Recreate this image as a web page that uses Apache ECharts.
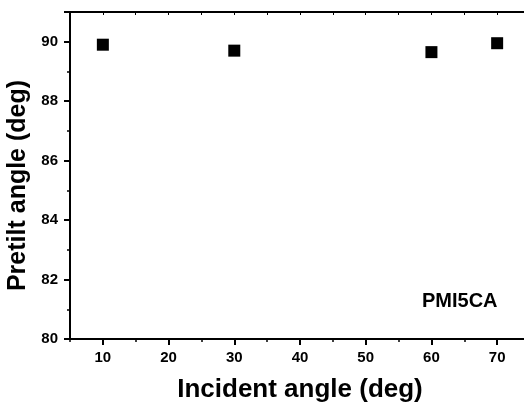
<!DOCTYPE html>
<html>
<head>
<meta charset="utf-8">
<script src="https://cdn.jsdelivr.net/npm/echarts@6/dist/echarts.min.js"></script>
<style>html,body{margin:0;padding:0;background:#fff;}#c{width:524px;height:402px;}</style>
</head>
<body>
<div id="c"></div>
<script>
var incidentAngles = [10, 30, 60, 70];
var pretiltAngles = [89.9, 89.7, 89.65, 89.95];
var xMajorTicks = [10, 20, 30, 40, 50, 60, 70];
var yTicks = [80, 82, 84, 86, 88, 90];
var sampleLabel = 'PMI5CA';
var xTitle = 'Incident angle (deg)';
var yTitle = 'Pretilt angle (deg)';

var FONT = '"Liberation Sans", Arial, sans-serif';
var chart = echarts.init(document.getElementById('c'), null, {renderer: 'canvas'});
var points = incidentAngles.map(function (x, i) { return [x, pretiltAngles[i]]; });

chart.setOption({
  animation: false,
  backgroundColor: '#fff',
  grid: {left: 70, right: -6, top: 12, bottom: 63, containLabel: false, outerBoundsMode: 'none'},
  xAxis: [{
    type: 'value', min: 5, max: 75, interval: 5, position: 'bottom',
    name: xTitle, nameLocation: 'middle', nameGap: 38,
    nameTextStyle: {fontFamily: FONT, fontWeight: 'bold', fontSize: 26, color: '#000'},
    axisLine: {show: true, onZero: false, lineStyle: {color: '#000', width: 2}},
    axisTick: {show: true, inside: false, length: 6, customValues: xMajorTicks, lineStyle: {color: '#000', width: 2}},
    minorTick: {show: false},
    axisLabel: {customValues: xMajorTicks, margin: 11, fontFamily: FONT, fontWeight: 'bold', fontSize: 15, color: '#000'},
    splitLine: {show: false}
  }, {
    type: 'value', min: 5, max: 75, interval: 5, position: 'bottom',
    axisLine: {show: false, onZero: false},
    axisTick: {show: true, inside: false, length: 3, lineStyle: {color: '#000', width: 1.5}},
    axisLabel: {show: false},
    splitLine: {show: false}
  }, {
    type: 'value', min: 5, max: 75, interval: 5, position: 'top',
    axisLine: {show: true, onZero: false, lineStyle: {color: '#000', width: 2}},
    axisTick: {show: true, inside: true, length: 3, lineStyle: {color: '#000', width: 1}},
    axisLabel: {show: false},
    splitLine: {show: false}
  }],
  yAxis: [{
    type: 'value', min: 80, max: 91, interval: 2, position: 'left',
    name: yTitle, nameLocation: 'middle', nameGap: 39, nameRotate: 90,
    nameTextStyle: {fontFamily: FONT, fontWeight: 'bold', fontSize: 25, color: '#000', padding: [0, 20, 0, 0]},
    axisLine: {show: true, onZero: false, lineStyle: {color: '#000', width: 2}},
    axisTick: {show: true, inside: false, length: 6, lineStyle: {color: '#000', width: 2}},
    minorTick: {show: true, splitNumber: 2, length: 3, lineStyle: {color: '#000', width: 1.5}},
    axisLabel: {margin: 12, fontFamily: FONT, fontWeight: 'bold', fontSize: 15, color: '#000',
      customValues: yTicks},
    splitLine: {show: false}
  }],
  series: [{
    type: 'scatter', xAxisIndex: 0, yAxisIndex: 0,
    symbol: 'rect', symbolSize: 12,
    itemStyle: {color: '#000', opacity: 1},
    data: points
  }],
  graphic: [{
    type: 'text', left: 422, top: 291,
    style: {text: sampleLabel, font: 'bold 20px ' + FONT, fill: '#000'}
  }]
});
</script>
</body>
</html>
